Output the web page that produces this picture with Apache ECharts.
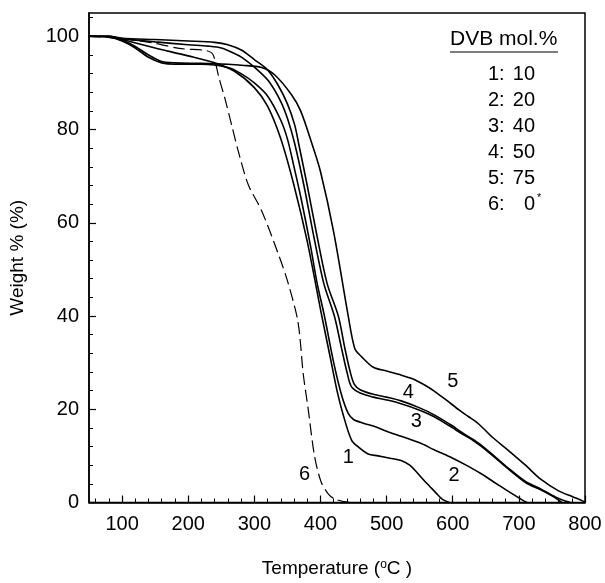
<!DOCTYPE html>
<html>
<head>
<meta charset="utf-8">
<script src="https://cdn.jsdelivr.net/npm/echarts@6/dist/echarts.min.js"></script>
<style>
  html, body { margin: 0; padding: 0; background: #fff; }
  #main { width: 605px; height: 583px; }
</style>
</head>
<body>
<div id="main"></div>
<script>
// TGA curves, [temperature, weight %]
var curve1 = [[50,100],[80,100],[100,99.3],[150,97.5],[200,95.8],[240,94.3],[270,92.5],[300,89],[320,85],[340,78],[360,68],[380,56],[402,40],[415,31],[425,24],[434,19],[447,13.4],[459,11.7],[472,10.4],[487,10],[505,9.5],[522,9],[535,8],[545,6.6],[555,5],[565,3.5],[575,2],[585,0.6],[595,0]];
var curve2 = [[50,100],[80,99.8],[100,99],[120,97.5],[140,95.5],[160,94.3],[180,94],[220,94],[260,93.3],[280,92],[300,90],[320,87.2],[340,82],[350,78],[360,72],[371,65],[385,55],[395,47],[406,40],[420,30],[432,23],[442,19.1],[450,17.8],[465,17],[482,16.3],[500,15.3],[522,14.2],[550,12.8],[572,11.3],[600,9.5],[623,7.8],[645,6],[662,4.4],[683,2.5],[700,1],[712,0]];
var curve3 = [[50,100],[80,100],[100,99.5],[150,98.8],[200,98.2],[230,97.9],[250,97.5],[270,96.3],[281,95.5],[300,93.4],[321,90.5],[340,86],[351,82],[361,77],[375,68],[390,57],[405,47],[421,40],[432,33],[440,28],[447,24.8],[460,23.5],[480,22.6],[500,22],[522,21.2],[550,19.8],[572,18.4],[600,16],[612,14.9],[632,13.2],[650,11.3],[683,7.3],[710,4.3],[733,2.7],[755,1],[765,0]];
var curve4 = [[50,100],[80,100],[100,99.6],[150,99.3],[200,99],[240,98.7],[260,98.2],[281,97],[300,95],[320,92.8],[336,89.5],[350,85.5],[361,81],[367,77],[380,68],[395,57],[410,47],[427,40],[437,33],[445,28],[451,25.4],[460,24.2],[480,23.2],[500,22.6],[522,21.8],[550,20.3],[572,18.8],[600,16.4],[612,15.2],[632,13.4],[650,11.5],[683,7.5],[710,4.5],[733,2.9],[755,1.2],[770,0.3],[778,0]];
var curve5 = [[50,100],[80,99.8],[100,99.2],[120,97.8],[140,96],[160,94.6],[180,94.3],[220,94.2],[260,94],[281,93.8],[311,93.3],[331,91.7],[356,87.5],[370,84],[387,77],[400,71],[420,58],[442,40],[452,33],[462,31.3],[480,29],[500,28.2],[518,27.5],[540,26.5],[560,25],[572,23.9],[590,22],[610,19.8],[623,18.5],[638,17],[660,14],[683,11.3],[710,8],[733,5],[760,2.5],[782,1.2],[797,0.3],[800,0]];
var curve6 = [[50,100],[80,99.8],[100,99.5],[150,98.5],[186,97.4],[225,97],[235,96.5],[239,95.6],[246,91.4],[256,86.4],[266,80.8],[276,75.2],[291,68.1],[311,62.6],[336,53.4],[351,47.1],[366,38.7],[374,27.5],[381,20.5],[391,10],[401,4.4],[412,1.8],[421,0.8],[435,0.2],[450,0]];

// curve numbers written on the plot
var labelText = ['1','2','3','4','5','6'];
var labelX = [442, 602, 545, 533, 600, 376];
var labelY = [9.6, 5.8, 17.4, 23.7, 26, 6];

// legend rows
var legendNum = ['1:','2:','3:','4:','5:','6:'];
var legendDvb = ['10','20','40','50','75','0'];

// tick labels
var xTicks = [100,200,300,400,500,600,700,800];
var yTicks = [0,20,40,60,80,100];

var xMinor = [];
for (var v = 60; v <= 800; v += 20) { if (v % 100 !== 0) xMinor.push(v); }
var yMinor = [];
for (var w = 4; w <= 104; w += 4) { if (w % 20 !== 0) yMinor.push(w); }

var FONT = 'Liberation Sans, Arial, sans-serif';
var myChart = echarts.init(document.getElementById('main'));

function lineSeries(data, dashed) {
    return {
        type: 'line',
        data: data,
        smooth: 0.3,
        showSymbol: false,
        symbol: 'none',
        lineStyle: { color: '#000', width: dashed ? 1.2 : 1.6, type: dashed ? [12, 5] : 'solid' },
        z: 3
    };
}

var legendGraphics = [
    { type: 'text', left: 450, top: 29, style: { text: 'DVB mol.%', font: '21px ' + FONT, fill: '#000' } },
    { type: 'line', shape: { x1: 450, y1: 52, x2: 558, y2: 52 }, style: { stroke: '#000', lineWidth: 1.2 } }
];
for (var i = 0; i < legendNum.length; i++) {
    var yy = 64 + i * 26;
    legendGraphics.push({ type: 'text', x: 488, y: yy, style: { text: legendNum[i], font: '20px ' + FONT, fill: '#000' } });
    legendGraphics.push({ type: 'text', x: 535, y: yy, style: { text: legendDvb[i], font: '20px ' + FONT, fill: '#000', align: 'right' } });
}
legendGraphics.push({ type: 'text', x: 537, y: 192, style: { text: '*', font: '11px ' + FONT, fill: '#000' } });

var option = {
    animation: false,
    backgroundColor: '#fff',
    grid: {
        show: true,
        left: 87, right: 20, top: 13, bottom: 72,
        borderColor: '#000', borderWidth: 1.5,
        containLabel: false
    },
    xAxis: [{
        type: 'value', min: 50, max: 800,
        name: 'Temperature ({s|o}C )',
        nameLocation: 'middle', nameGap: 56,
        nameTextStyle: { fontFamily: FONT, fontSize: 19, color: '#000', rich: { s: { fontSize: 12, verticalAlign: 'top', padding: [0, 0, 8, 0], fontFamily: FONT } } },
        axisLine: { show: true, lineStyle: { color: '#000', width: 1.5 } },
        axisTick: { show: true, inside: true, length: 7, customValues: xTicks, lineStyle: { color: '#000', width: 1.2 } },
        axisLabel: { customValues: xTicks, fontFamily: FONT, fontSize: 20, color: '#000', margin: 12 },
        splitLine: { show: false }
    }, {
        type: 'value', min: 50, max: 800, position: 'bottom', offset: 0,
        axisLine: { show: false },
        axisTick: { show: true, inside: true, length: 4, customValues: xMinor, lineStyle: { color: '#000', width: 1 } },
        axisLabel: { show: false },
        splitLine: { show: false }
    }],
    yAxis: [{
        type: 'value', min: 0, max: 105,
        name: 'Weight % (%)',
        nameLocation: 'middle', nameGap: 62, nameRotate: 90,
        nameTextStyle: { fontFamily: FONT, fontSize: 19, color: '#000' },
        axisLine: { show: true, lineStyle: { color: '#000', width: 1.5 } },
        axisTick: { show: true, inside: true, length: 7, customValues: yTicks, lineStyle: { color: '#000', width: 1.2 } },
        axisLabel: { customValues: yTicks, fontFamily: FONT, fontSize: 20, color: '#000', margin: 10 },
        splitLine: { show: false }
    }, {
        type: 'value', min: 0, max: 105, position: 'left', offset: 0,
        axisLine: { show: false },
        axisTick: { show: true, inside: true, length: 4, customValues: yMinor, lineStyle: { color: '#000', width: 1 } },
        axisLabel: { show: false },
        splitLine: { show: false }
    }],
    series: [
        lineSeries(curve1, false),
        lineSeries(curve2, false),
        lineSeries(curve3, false),
        lineSeries(curve4, false),
        lineSeries(curve5, false),
        lineSeries(curve6, true),
        {
            type: 'scatter',
            symbolSize: 0,
            itemStyle: { opacity: 1 },
            data: labelText.map(function (t, k) { return { name: t, value: [labelX[k], labelY[k]] }; }),
            label: { show: true, position: 'inside', formatter: '{b}', fontFamily: FONT, fontSize: 20, color: '#000', opacity: 1 },
            z: 5
        }
    ],
    graphic: legendGraphics
};
myChart.setOption(option);
</script>
</body>
</html>
